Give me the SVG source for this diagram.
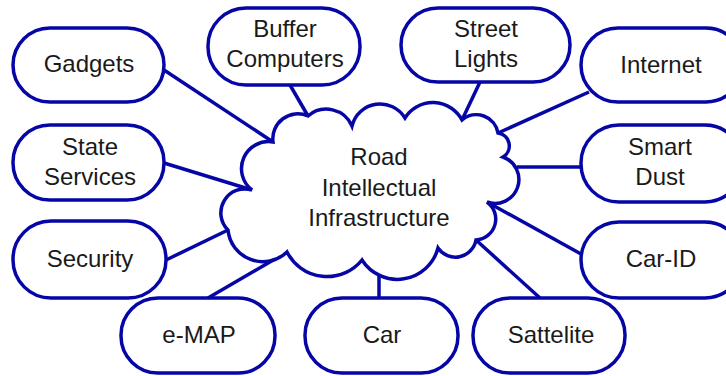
<svg xmlns="http://www.w3.org/2000/svg" width="726" height="376" viewBox="0 0 726 376">
<style>
.n{fill:#fff;stroke:#0606a6;stroke-width:3.5}
.c line{stroke:#0606a6;stroke-width:3.5}
text{font-family:"Liberation Sans",Arial,sans-serif;font-size:24px;fill:#1a1a1a;text-anchor:middle}
</style>
<rect width="726" height="376" fill="#fff"/>
<g id="connectors" class="c">
<line x1="164" y1="70" x2="273" y2="142"/>
<line x1="290" y1="85" x2="308" y2="116"/>
<line x1="480" y1="82" x2="462" y2="120"/>
<line x1="589" y1="92" x2="498" y2="133"/>
<line x1="581" y1="167" x2="517" y2="167"/>
<line x1="581" y1="254" x2="487" y2="202"/>
<line x1="540" y1="298" x2="476" y2="240"/>
<line x1="379" y1="298" x2="379" y2="276"/>
<line x1="208" y1="298" x2="287" y2="252"/>
<line x1="166" y1="260" x2="228" y2="230"/>
<line x1="164" y1="163" x2="252" y2="190"/>
</g>
<g id="cloud">
<path class="n" d="M273,142 A25,25 0 0 1 308,116 A28,28 0 0 1 352,126 A29,29 0 0 1 405,118 A33,33 0 0 1 462,120 A22,22 0 0 1 498,133 A13,13 0 0 1 503,157 A23,23 0 0 1 487,202 A21,21 0 0 1 476,240 A21,21 0 0 1 438,248 A42,42 0 0 1 362,260 A45,45 0 0 1 287,252 A35,35 0 0 1 228,230 A24,24 0 0 1 252,190 A27,27 0 0 1 273,142 Z"/>
<text x="379" y="165">Road</text>
<text x="379" y="196">Intellectual</text>
<text x="379" y="226">Infrastructure</text>
</g>
<g id="gadgets"><rect class="n" x="13" y="28" width="151" height="74" rx="37"/><text x="89" y="72">Gadgets</text></g>
<g id="buffer"><rect class="n" x="208" y="8" width="152" height="77" rx="38"/><text x="285" y="37">Buffer</text><text x="285" y="67">Computers</text></g>
<g id="streetlights"><rect class="n" x="401" y="8" width="169" height="74" rx="37"/><text x="486" y="37">Street</text><text x="486" y="67">Lights</text></g>
<g id="internet"><rect class="n" x="581" y="28" width="162" height="74" rx="37"/><text x="661" y="73">Internet</text></g>
<g id="smartdust"><rect class="n" x="581" y="125" width="162" height="77" rx="38"/><text x="660" y="155">Smart</text><text x="660" y="185">Dust</text></g>
<g id="carid"><rect class="n" x="581" y="222" width="162" height="76" rx="38"/><text x="661" y="267">Car-ID</text></g>
<g id="sattelite"><rect class="n" x="473" y="298" width="152" height="75" rx="37"/><text x="551" y="343">Sattelite</text></g>
<g id="car"><rect class="n" x="305" y="298" width="153" height="75" rx="37"/><text x="382" y="343">Car</text></g>
<g id="emap"><rect class="n" x="121" y="298" width="154" height="75" rx="37"/><text x="199" y="343">e-MAP</text></g>
<g id="security"><rect class="n" x="13" y="221" width="153" height="77" rx="38"/><text x="90" y="267">Security</text></g>
<g id="stateservices"><rect class="n" x="13" y="125" width="151" height="75" rx="37"/><text x="90" y="155">State</text><text x="90" y="185">Services</text></g>
</svg>
